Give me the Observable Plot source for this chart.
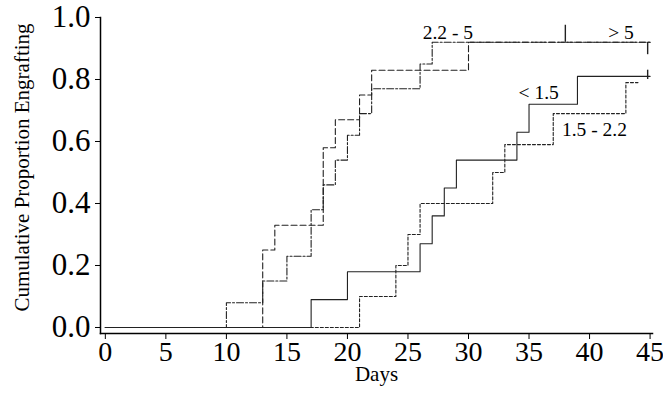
<!DOCTYPE html>
<html>
<head>
<meta charset="utf-8">
<script src="https://cdn.jsdelivr.net/npm/d3@7"></script>
<script src="https://cdn.jsdelivr.net/npm/@observablehq/plot@0.6"></script>
<style>
  html, body { margin: 0; padding: 0; background: #fff; }
  #chart { width: 663px; height: 408px; }
</style>
</head>
<body>
<div id="chart"></div>
<script>
// ---- data (Kaplan–Meier style step curves) ----
const groups = ["< 1.5", "1.5 - 2.2", "2.2 - 5", "> 5"];

const lt15Days = [0, 17, 20, 26, 27, 28, 29, 34, 35, 39, 45];
const lt15Prop = [0, 0.09, 0.18, 0.27, 0.36, 0.45, 0.54, 0.63, 0.72, 0.81, 0.81];

const mid1Days = [0, 21, 24, 25, 26, 32, 33, 37, 43, 44];
const mid1Prop = [0, 0.10, 0.20, 0.30, 0.40, 0.50, 0.59, 0.69, 0.79, 0.79];

const mid2Days = [0, 10, 13, 15, 17, 18, 19, 20, 21, 22, 26, 27, 45];
const mid2Prop = [0, 0.08, 0.15, 0.23, 0.38, 0.46, 0.54, 0.62, 0.69, 0.77, 0.85, 0.92, 0.92];

const gt5Days = [0, 13, 14, 18, 19, 21, 22, 30, 45];
const gt5Prop = [0, 0.25, 0.33, 0.58, 0.67, 0.75, 0.83, 0.92, 0.92];

// censoring ticks
const censorDay = [38, 44.8, 44.8];
const censorLow = [0.92, 0.88, 0.80];
const censorHigh = [0.975, 0.92, 0.83];

// curve labels
const labelText = ["2.2 - 5", "> 5", "< 1.5", "1.5 - 2.2"];
const labelDay = [28.3, 42.6, 35.8, 40.4];
const labelProp = [0.952, 0.952, 0.758, 0.639];

const xTicks = [0, 5, 10, 15, 20, 25, 30, 35, 40, 45];
const yTicks = [0, 0.2, 0.4, 0.6, 0.8, 1.0];

// ---- build tables ----
const seriesDays = [lt15Days, mid1Days, mid2Days, gt5Days];
const seriesProp = [lt15Prop, mid1Prop, mid2Prop, gt5Prop];
const dashes = [null, "3,2", "7,2,2,2", "6,3"];

const rows = groups.map((g, i) => seriesDays[i].map((d, j) => ({group: g, day: d, p: seriesProp[i][j]})));
const censors = censorDay.map((d, i) => ({day: d, lo: censorLow[i], hi: censorHigh[i]}));
const labels = labelText.map((t, i) => ({text: t, day: labelDay[i], p: labelProp[i]}));

const font = "Liberation Serif, Times New Roman, serif";

const chart = Plot.plot({
  width: 663,
  height: 408,
  marginLeft: 100,
  marginRight: 11,
  marginTop: 17,
  marginBottom: 75,
  style: {fontFamily: font, background: "white", color: "black", overflow: "visible"},
  x: {domain: [-0.4, 45.2], label: null},
  y: {domain: [-0.0194, 1.0], label: null},
  marks: [
    Plot.axisX({ticks: xTicks, tickSize: 6, tickPadding: 2, fontSize: 28, tickFormat: d => String(d), label: null, stroke: "black"}),
    Plot.axisY({ticks: yTicks, tickSize: 5, tickPadding: 5, fontSize: 31, tickFormat: d3.format(".1f"), label: null, stroke: "black"}),
    Plot.frame({anchor: "left", stroke: "black", strokeWidth: 1.5}),
    Plot.frame({anchor: "bottom", stroke: "black", strokeWidth: 1.5}),
    ...rows.map((r, i) => Plot.line(r, {
      x: "day", y: "p", curve: "step-after",
      stroke: "#222", strokeWidth: 1.1,
      strokeDasharray: dashes[i]
    })),
    Plot.ruleX(censors, {x: "day", y1: "lo", y2: "hi", stroke: "#222", strokeWidth: 1.4}),
    Plot.text(labels, {x: "day", y: "p", text: "text", fontSize: 19.5, fill: "black"}),
    Plot.text(["Days"], {frameAnchor: "bottom", lineAnchor: "middle", dy: 41, fontSize: 21, fill: "black"}),
    Plot.text(["Cumulative Proportion Engrafting"], {frameAnchor: "left", textAnchor: "middle", lineAnchor: "middle", dx: -78, dy: -8, rotate: -90, fontSize: 21, fill: "black"})
  ]
});
document.getElementById("chart").appendChild(chart);
</script>
</body>
</html>
